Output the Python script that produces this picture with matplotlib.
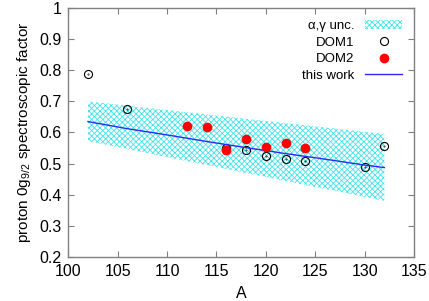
import matplotlib
matplotlib.use("Agg")
import matplotlib.pyplot as plt

plt.rcParams['font.family'] = ['Liberation Sans', 'DejaVu Sans']
plt.rcParams['hatch.linewidth'] = 0.6

# DOM1 (open circles)
a_dom1 = [102, 106, 116, 118, 120, 122, 124, 130, 132]
s_dom1 = [0.789, 0.674, 0.551, 0.542, 0.523, 0.513, 0.509, 0.488, 0.556]

# DOM2 (filled red)
a_dom2 = [112, 114, 116, 118, 120, 122, 124]
s_dom2 = [0.621, 0.616, 0.545, 0.580, 0.552, 0.566, 0.550]

# this work (line)
a_work = [102, 106, 110, 114, 118, 122, 126, 130, 132]
s_work = [0.635, 0.612, 0.592, 0.571, 0.551, 0.532, 0.514, 0.495, 0.487]

# alpha,gamma uncertainty band
a_band = [102, 112, 122, 132]
band_hi = [0.700, 0.665, 0.630, 0.595]
band_lo = [0.572, 0.508, 0.444, 0.380]

fig = plt.figure(figsize=(4.29, 3.01), dpi=100)
ax = fig.add_axes([0.159, 0.147, 0.806, 0.826])

ax.fill_between(a_band, band_lo, band_hi, facecolor='white', edgecolor='#40e4ec',
                hatch='xxxxxx', linewidth=0, label='α,γ unc.')
ax.plot(a_dom1, s_dom1, 'o', mfc='none', mec='black', mew=0.8, ms=5.8, label='DOM1')
ax.plot(a_dom1, s_dom1, '.', color='black', ms=0.8)
ax.plot(a_dom2, s_dom2, 'o', color='red', ms=6.0, label='DOM2', zorder=3)
ax.plot(a_work, s_work, '-', color='#2a2aee', lw=1.0, label='this work')

ax.set_xlim(100, 135)
ax.set_ylim(0.2, 1.0)
ax.set_xticks(range(100, 136, 5))
ax.set_yticks([0.2, 0.3, 0.4, 0.5, 0.6, 0.7, 0.8, 0.9, 1.0])
ax.set_yticklabels(['0.2', '0.3', '0.4', '0.5', '0.6', '0.7', '0.8', '0.9', '1'])

for sp in ax.spines.values():
    sp.set_color('#808080')
    sp.set_linewidth(1.0)
ax.tick_params(direction='in', top=True, right=True, length=4, width=0.8,
               color='#808080', labelsize=11.5, pad=5)

ax.set_xlabel('A', fontsize=11.5, labelpad=5)
ax.set_ylabel(r'proton 0g$_{\mathregular{9/2}}$ spectroscopic factor', fontsize=11, labelpad=4)

handles, labels = ax.get_legend_handles_labels()
leg = ax.legend(handles, labels, loc='upper right', frameon=False, markerfirst=False,
                alignment='right', fontsize=9.5, handlelength=2.8, labelspacing=0.32,
                borderaxespad=0.5, handletextpad=0.8)

fig.savefig('out.png', dpi=100)
